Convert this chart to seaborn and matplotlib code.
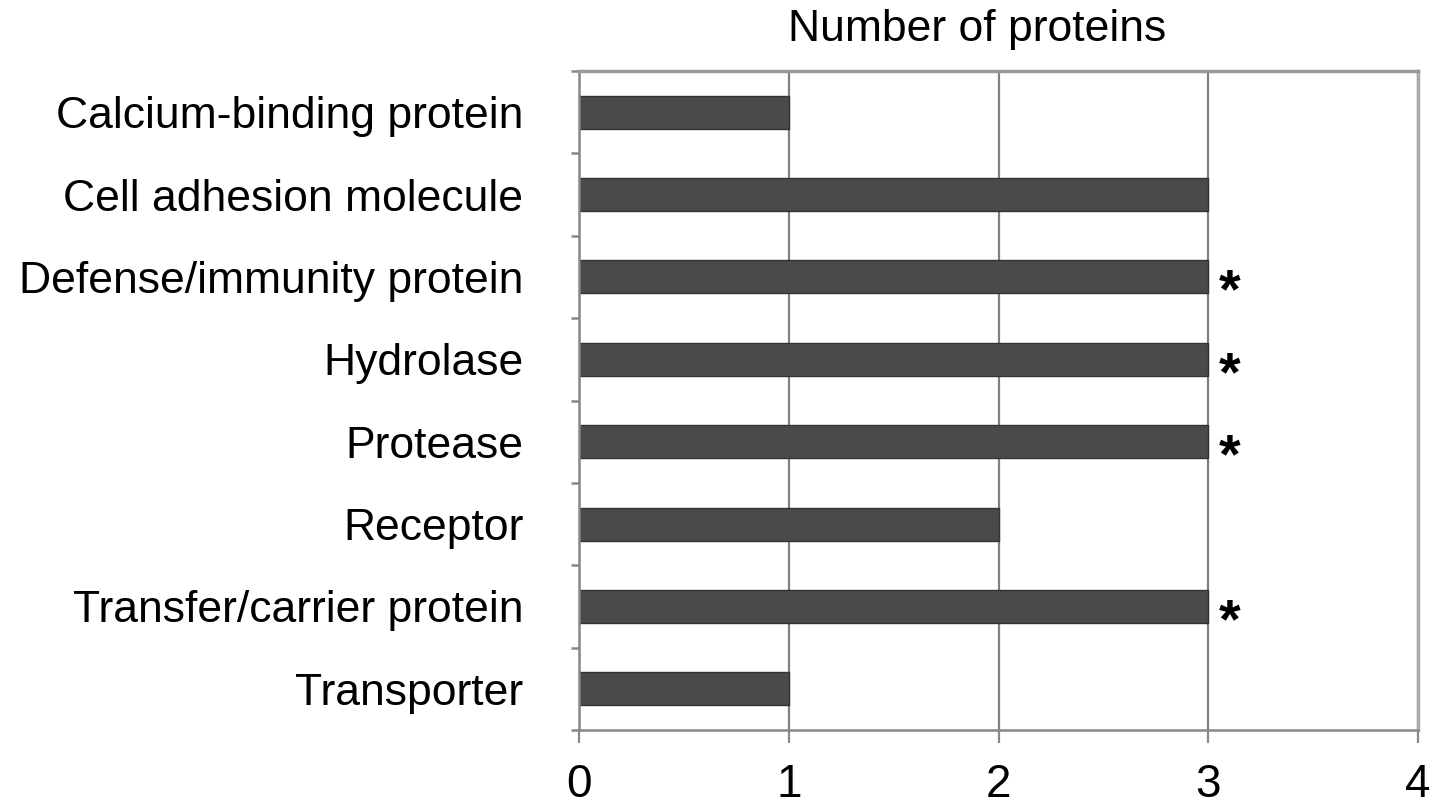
import numpy as np
import pandas as pd
import matplotlib
matplotlib.use("Agg")
import matplotlib.pyplot as plt
import seaborn as sns

# datos
categories = ["Calcium-binding protein", "Cell adhesion molecule",
              "Defense/immunity protein", "Hydrolase", "Protease",
              "Receptor", "Transfer/carrier protein", "Transporter"]
counts = [1, 3, 3, 3, 3, 2, 3, 1]
starred = [False, False, True, True, True, False, True, False]
xticks = [0, 1, 2, 3, 4]

df = pd.DataFrame({"category": categories, "count": counts})

sns.set_style("white")
plt.rcParams["font.family"] = ["Liberation Sans", "DejaVu Sans"]
plt.rcParams["text.color"] = "black"
plt.rcParams["xtick.labelcolor"] = "black"
plt.rcParams["ytick.labelcolor"] = "black"

fig = plt.figure(figsize=(14.41, 8.11), dpi=100)
ax = fig.add_axes([579 / 1441, 1 - 730 / 811, (1418 - 579) / 1441, (730 - 71) / 811])

ax.xaxis.grid(True, color="#808080", linewidth=1.6)
ax.set_axisbelow(True)

sns.barplot(data=df, x="count", y="category", orient="h", width=0.4,
            color="#4a4a4a", edgecolor="#333333", linewidth=1, saturation=1, ax=ax)

# asteriscos
for i, (c, s) in enumerate(zip(counts, starred)):
    if s:
        ax.text(c + 0.05, i + 0.2, "*", fontsize=40, ha="left", va="center",
                fontweight="bold", color="black")

ax.set_xlim(0, 4)
ax.set_ylim(len(categories) - 0.5, -0.5)
ax.set_xticks(xticks)
ax.set_xticklabels([str(t) for t in xticks])
ax.set_xlabel("")
ax.set_ylabel("")

# ticks entre categorías
ax.set_yticks(np.arange(-0.5, len(categories), 1.0), minor=True)
ax.tick_params(axis="y", which="major", length=0, pad=40, labelsize=32)
ax.tick_params(axis="y", which="minor", length=6, width=1.8, color="#888888", left=True)
ax.tick_params(axis="x", which="major", length=9, width=1.6, color="#888888",
               pad=15, labelsize=33, bottom=True)

for side in ["left", "bottom"]:
    ax.spines[side].set_color("#888888")
    ax.spines[side].set_linewidth(1.8)
ax.spines["top"].set_color("#999999")
ax.spines["top"].set_linewidth(2.5)
ax.spines["right"].set_color("#aaaaaa")
ax.spines["right"].set_linewidth(2.5)
for side in ax.spines:
    ax.spines[side].set_visible(True)

fig.text(977 / 1441, 1 - 30 / 811, "Number of proteins", fontsize=32,
         ha="center", va="center", color="black")

fig.savefig("out.png", dpi=100)
